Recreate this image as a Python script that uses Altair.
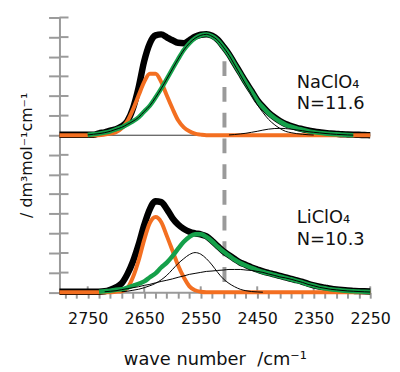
import altair as alt
import pandas as pd

# wave-number grid (cm^-1) on which the curves were read
wavenumber = list(range(2800, 2249, -10))  # 2800 ... 2250, 56 points
N = None

# ---- NaClO4 panel (heights in y-tick units above the panel baseline) ----
na_total = [0.02] * 7 + [
    0.10, 0.15, 0.23, 0.30, 0.45, 0.71, 1.36, 2.42, 3.78, 4.69,
    5.09, 5.14, 4.99, 4.84, 4.71, 4.69, 4.84, 5.02, 5.12, 5.15,
    5.07, 4.87, 4.52, 4.13, 3.65, 3.18, 2.70, 2.25, 1.79, 1.45,
    1.15, 0.92, 0.73, 0.57, 0.47, 0.38, 0.31, 0.24, 0.19, 0.15,
    0.12, 0.09, 0.07, 0.05, 0.04, 0.03, 0.02, 0.01, 0.0]
na_orange = [0.0] * 8 + [
    0.03, 0.08, 0.15, 0.35, 0.71, 1.31, 2.02, 2.72, 3.13, 3.13,
    2.72, 2.02, 1.36, 0.76, 0.40, 0.20, 0.08, 0.03] + [0.0] * 30
na_green = [N] * 5 + [
    0.015, 0.05, 0.08, 0.13, 0.20, 0.30, 0.40, 0.55, 0.71, 0.91,
    1.21, 1.51, 1.92, 2.37, 2.87, 3.38, 3.88, 4.34, 4.69, 4.94,
    5.09, 5.14, 5.04, 4.84, 4.49, 4.10, 3.62, 3.15, 2.67, 2.22,
    1.76, 1.42, 1.12, 0.89, 0.70, 0.54, 0.44, 0.35, 0.28, 0.21,
    0.16, 0.12, 0.09, 0.066, 0.045, 0.03, 0.015, 0.005] + [N] * 3
na_comp_main = [N] * 5 + [
    0.015, 0.05, 0.08, 0.13, 0.20, 0.30, 0.40, 0.55, 0.71, 0.91,
    1.21, 1.51, 1.92, 2.37, 2.87, 3.38, 3.88, 4.34, 4.69, 4.94,
    5.09, 5.14, 5.04, 4.84, 4.49, 4.08, 3.58, 3.08, 2.57, 2.07,
    1.56, 1.16, 0.81, 0.55, 0.35, 0.20, 0.13, 0.08, 0.05, 0.025,
    0.01] + [N] * 10
na_comp_minor = [N] * 30 + [
    0.015, 0.035, 0.066, 0.10, 0.15, 0.20, 0.26, 0.31, 0.34, 0.35,
    0.34, 0.31, 0.27, 0.23, 0.18, 0.15, 0.12, 0.09, 0.066, 0.045,
    0.03, 0.015, 0.005] + [N] * 3

# ---- LiClO4 panel ----
li_total = [0.02] * 7 + [
    0.025, 0.05, 0.13, 0.25, 0.45, 0.91, 1.56, 2.42, 3.43, 4.24,
    4.64, 4.59, 4.24, 3.78, 3.45, 3.23, 3.08, 3.00, 2.95, 2.85,
    2.62, 2.35, 2.09, 1.89, 1.69, 1.51, 1.39, 1.26, 1.16, 1.06,
    0.98, 0.91, 0.83, 0.76, 0.68, 0.61, 0.53, 0.43, 0.35, 0.28,
    0.23, 0.18, 0.14, 0.11, 0.086, 0.07, 0.055, 0.045, 0.04]
li_orange = [0.0] * 10 + [
    0.025, 0.05, 0.20, 0.76, 1.61, 2.67, 3.53, 3.83, 3.58, 2.87,
    2.12, 1.36, 0.76, 0.30, 0.10, 0.025] + [0.0] * 30
li_green = [N] * 7 + [
    0.025, 0.05, 0.076, 0.13, 0.15, 0.23, 0.33, 0.43, 0.55, 0.76,
    0.96, 1.26, 1.51, 1.84, 2.22, 2.57, 2.82, 2.95, 2.95, 2.82,
    2.60, 2.32, 2.07, 1.87, 1.66, 1.49, 1.36, 1.24, 1.13, 1.03,
    0.96, 0.88, 0.81, 0.73, 0.66, 0.58, 0.50, 0.40, 0.33, 0.25,
    0.20, 0.15, 0.12, 0.09, 0.066, 0.05, 0.035, 0.02, 0.01]
li_comp_a = [N] * 11 + [
    0.025, 0.05, 0.10, 0.15, 0.23, 0.33, 0.45, 0.63, 0.86, 1.16,
    1.46, 1.71, 1.92, 2.02, 1.94, 1.71, 1.39, 1.01, 0.68, 0.45,
    0.28, 0.15, 0.076, 0.035, 0.015, 0.0] + [N] * 19
li_comp_b = [N] * 8 + [
    0.025, 0.05, 0.076, 0.13, 0.18, 0.23, 0.28, 0.35, 0.40, 0.48,
    0.55, 0.61, 0.68, 0.76, 0.83, 0.91, 0.96, 1.01, 1.06, 1.08,
    1.11, 1.13, 1.16, 1.16, 1.16, 1.13, 1.11, 1.06, 1.01, 0.93,
    0.86, 0.78, 0.73, 0.66, 0.58, 0.50, 0.40, 0.33, 0.25, 0.20,
    0.15, 0.12, 0.09, 0.066, 0.05, 0.035, 0.02, 0.01]

panel_offset = {"NaClO4": 8, "LiClO4": 0}
series = [
    ("NaClO4", "total", na_total), ("NaClO4", "orange", na_orange),
    ("NaClO4", "green", na_green), ("NaClO4", "thin_a", na_comp_main),
    ("NaClO4", "thin_b", na_comp_minor),
    ("LiClO4", "total", li_total), ("LiClO4", "orange", li_orange),
    ("LiClO4", "green", li_green), ("LiClO4", "thin_a", li_comp_a),
    ("LiClO4", "thin_b", li_comp_b),
]
rows = []
for panel, kind, vals in series:
    for w, v in zip(wavenumber, vals):
        if v is not None:
            rows.append({"w": w, "y": v + panel_offset[panel], "kind": kind,
                         "curve": panel + "_" + kind})
df = pd.DataFrame(rows)

x_ticks = list(range(2790, 2249, -20))
x_major = [2750, 2650, 2550, 2450, 2350, 2250]
y_ticks = list(range(0, 15))
dash_position = 2508

labels_text = ["NaClO₄", "N=11.6", "LiClO₄", "N=10.3"]
labels_y = [10.43, 9.33, 3.55, 2.39]

GRAY = "#9a9a9a"
FONT = "DejaVu Sans"

x_scale = alt.Scale(domain=[2800, 2250], nice=False, zero=False)
y_scale = alt.Scale(domain=[0, 14], nice=False, zero=False)
x_axis = alt.Axis(values=x_ticks, format="d",
                  labelExpr="datum.value % 100 == 50 ? datum.label : ''",
                  labelOverlap=False, labelFlush=False, labelBound=False,
                  labelFontSize=16, labelFont=FONT,
                  labelColor="#111", labelPadding=13,
                  tickSize=6, tickWidth=2, tickColor=GRAY,
                  domainColor=GRAY, domainWidth=2, grid=False,
                  title="wave number\u00a0 /cm⁻¹", titleFont=FONT,
                  titleFontSize=18, titleFontWeight="normal",
                  titleColor="#111", titlePadding=24)
y_axis = alt.Axis(values=y_ticks, labels=False, tickSize=11, tickWidth=2,
                  tickColor=GRAY, domainColor=GRAY, domainWidth=2,
                  grid=False, title="/ dm³mol⁻¹cm⁻¹", titleFont=FONT,
                  titleFontSize=16, titleFontWeight="normal",
                  titleColor="#111", titlePadding=13)


def X(field="w:Q"):
    return alt.X(field, scale=x_scale, axis=x_axis)


def Y(field="y:Q"):
    return alt.Y(field, scale=y_scale, axis=y_axis)


def XD(v):
    return alt.XDatum(v, scale=x_scale, axis=x_axis)


def YD(v):
    return alt.YDatum(v, scale=y_scale, axis=y_axis)


base = alt.Chart(df).encode(x=X(), y=Y(), detail="curve:N")

dash = alt.Chart(pd.DataFrame({"w": [dash_position]})).mark_rule(
    color=GRAY, strokeWidth=4, strokeDash=[15, 11]).encode(
    x=X(), y=YD(11.77), y2=alt.datum(0))

ytick_in = alt.Chart(pd.DataFrame({"y": y_ticks})).mark_rule(
    color=GRAY, strokeWidth=2).encode(
    y=Y(), x=XD(2800), x2=alt.datum(2784))

xtick_up = alt.Chart(pd.DataFrame({"w": x_major})).mark_rule(
    color=GRAY, strokeWidth=2).encode(
    x=X(), y=YD(0), y2=alt.datum(0.3))

zero_line = alt.Chart(pd.DataFrame({"y": [8]})).mark_rule(
    color="#333", strokeWidth=1).encode(
    y=Y(), x=XD(2800), x2=alt.datum(2250))

total = base.transform_filter(alt.datum.kind == "total").mark_line(
    color="black", strokeWidth=6.5, interpolate="monotone")
orange = base.transform_filter(alt.datum.kind == "orange").mark_line(
    color="#F36F21", strokeWidth=4, interpolate="monotone")
green = base.transform_filter(alt.datum.kind == "green").mark_line(
    color="#15A04A", strokeWidth=4.5, interpolate="monotone")
thin = base.transform_filter(
    (alt.datum.kind == "thin_a") | (alt.datum.kind == "thin_b")).mark_line(
    color="black", strokeWidth=1, interpolate="monotone")

texts = alt.Chart(pd.DataFrame({"label": labels_text, "y": labels_y})).mark_text(
    align="left", baseline="alphabetic", font=FONT, fontSize=18, color="#111").encode(
    x=XD(2380), y=Y(), text="label:N")

chart = alt.layer(dash, ytick_in, xtick_up, zero_line, total, orange, green, thin,
                  texts).properties(
    width=314, height=277.6,
    autosize=alt.AutoSizeParams(type="none"),
    padding={"left": 52, "top": 7.7, "right": 22, "bottom": 76},
).configure_view(stroke=None)

chart.save("out.html", embed_options={"renderer": "svg", "actions": False})
